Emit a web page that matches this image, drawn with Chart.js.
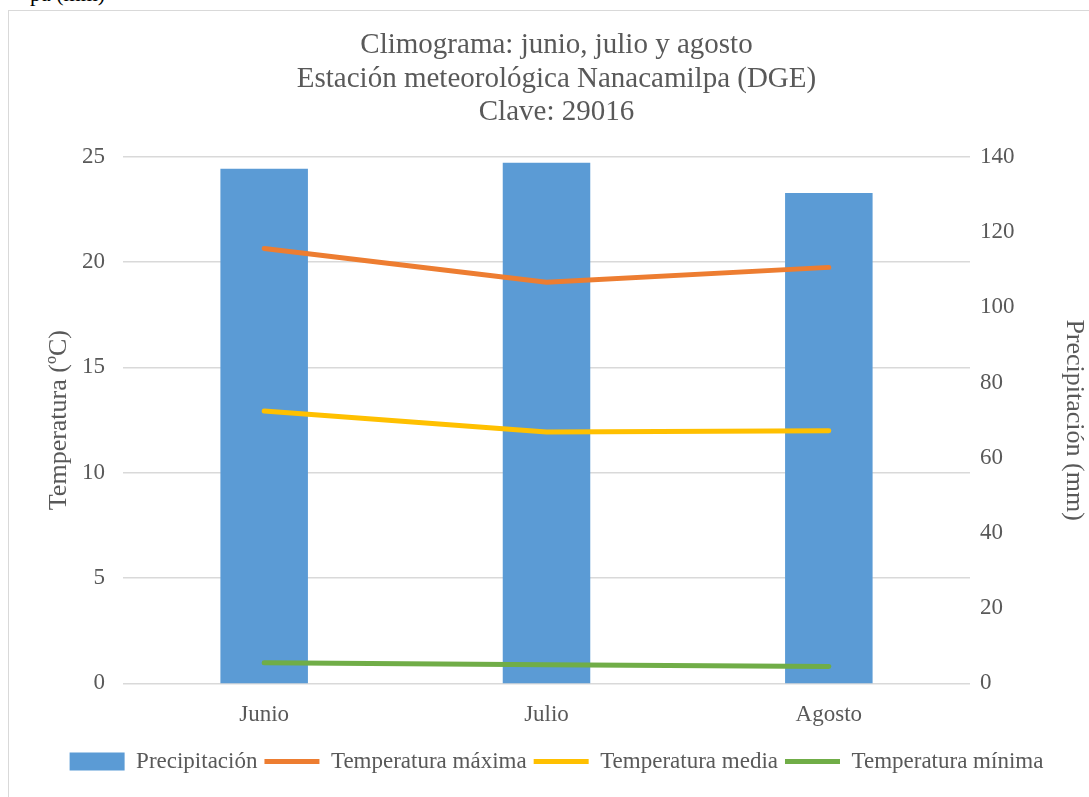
<!DOCTYPE html>
<html lang="es">
<head>
  <meta charset="UTF-8">
  <title>Climograma</title>
  <style>
    body { margin: 0; background: #fff; overflow: hidden; }
    .frame { position: absolute; left: 8px; top: 10px; width: 1100px; height: 800px; border: 1px solid #d9d9d9; }
    .cut { position: absolute; left: 30px; top: -19px; font: 22px "Liberation Serif", serif; color: #000; }
    .wrap { position: absolute; left: 0; top: 0; width: 1089px; height: 797px; }
  </style>
</head>
<body>
  <div class="cut">pa (mm)</div>
  <div class="frame"></div>
  <div class="wrap"><canvas id="myChart"></canvas></div>
  <script src="https://cdn.jsdelivr.net/npm/chart.js"></script>
  <script>
    const months = ['Junio', 'Julio', 'Agosto']
    const precipitacion = [136.8, 138.4, 130.4]   // mm
    const tempMax = [20.65, 19.05, 19.75]
    const tempMedia = [12.93, 11.93, 12.0]
    const tempMin = [0.98, 0.88, 0.8]

    const tempTicks = [0, 5, 10, 15, 20, 25]
    const precTicks = [0, 20, 40, 60, 80, 100, 120, 140]

    const serif = '"Liberation Serif", "Times New Roman", serif'
    const grey = '#595959'

    const ctx = document.getElementById('myChart')

    new Chart(ctx, {
      data: {
        labels: months,
        datasets: [
          {
            type: 'bar', label: 'Precipitación', data: precipitacion, yAxisID: 'yP',
            backgroundColor: '#5B9BD5', borderWidth: 0, barPercentage: 0.31, categoryPercentage: 1,
            order: 1, pointStyle: 'rect'
          },
          {
            type: 'line', label: 'Temperatura máxima', data: tempMax, yAxisID: 'yT',
            borderColor: '#ED7D31', backgroundColor: '#ED7D31', borderWidth: 5, pointRadius: 0,
            borderCapStyle: 'round', order: 0, pointStyle: 'line'
          },
          {
            type: 'line', label: 'Temperatura media', data: tempMedia, yAxisID: 'yT',
            borderColor: '#FFC000', backgroundColor: '#FFC000', borderWidth: 5, pointRadius: 0,
            borderCapStyle: 'round', order: 0, pointStyle: 'line'
          },
          {
            type: 'line', label: 'Temperatura mínima', data: tempMin, yAxisID: 'yT',
            borderColor: '#70AD47', backgroundColor: '#70AD47', borderWidth: 5, pointRadius: 0,
            borderCapStyle: 'round', order: 0, pointStyle: 'line'
          }
        ]
      },
      options: {
        responsive: true,
        maintainAspectRatio: false,
        animation: false,
        layout: { padding: { left: 24, right: 0, top: 28, bottom: 14 } },
        plugins: {
          tooltip: { enabled: false },
          title: {
            display: true,
            text: ['Climograma: junio, julio y agosto', 'Estación meteorológica Nanacamilpa (DGE)', 'Clave: 29016'],
            color: grey,
            font: { family: serif, size: 29, weight: 'normal', lineHeight: 1.17 },
            padding: { top: 0, bottom: 27 }
          },
          legend: {
            position: 'bottom',
            labels: {
              usePointStyle: true,
              pointStyleWidth: 55,
              boxHeight: 18,
              color: grey,
              padding: 7,
              font: { family: serif, size: 23 },
              sort: (a, b) => a.datasetIndex - b.datasetIndex
            }
          }
        },
        scales: {
          x: {
            afterFit: axis => { axis.height += 4 },
            grid: { display: false },
            border: { display: false },
            ticks: { color: grey, font: { family: serif, size: 23 }, padding: 10 }
          },
          yT: {
            position: 'left',
            min: 0, max: 25,
            afterBuildTicks: axis => { axis.ticks = tempTicks.map(v => ({ value: v })) },
            afterFit: axis => { axis.width = 99 },
            grid: { color: '#d9d9d9', lineWidth: 1.5, drawTicks: false },
            border: { display: false },
            ticks: { color: grey, font: { family: serif, size: 23 }, padding: 18 },
            title: { display: true, text: 'Temperatura (ºC)', color: grey, font: { family: serif, size: 26 }, padding: { top: 20, bottom: 0 } }
          },
          yP: {
            position: 'right',
            min: 0, max: 140,
            afterBuildTicks: axis => { axis.ticks = precTicks.map(v => ({ value: v })) },
            afterFit: axis => { axis.width = 119 },
            grid: { display: false, drawTicks: false },
            border: { display: false },
            ticks: { color: grey, font: { family: serif, size: 23 }, padding: 10 },
            title: { display: true, text: 'Precipitación (mm)', color: grey, font: { family: serif, size: 26 }, padding: 0 }
          }
        }
      }
    })
  </script>
</body>
</html>
